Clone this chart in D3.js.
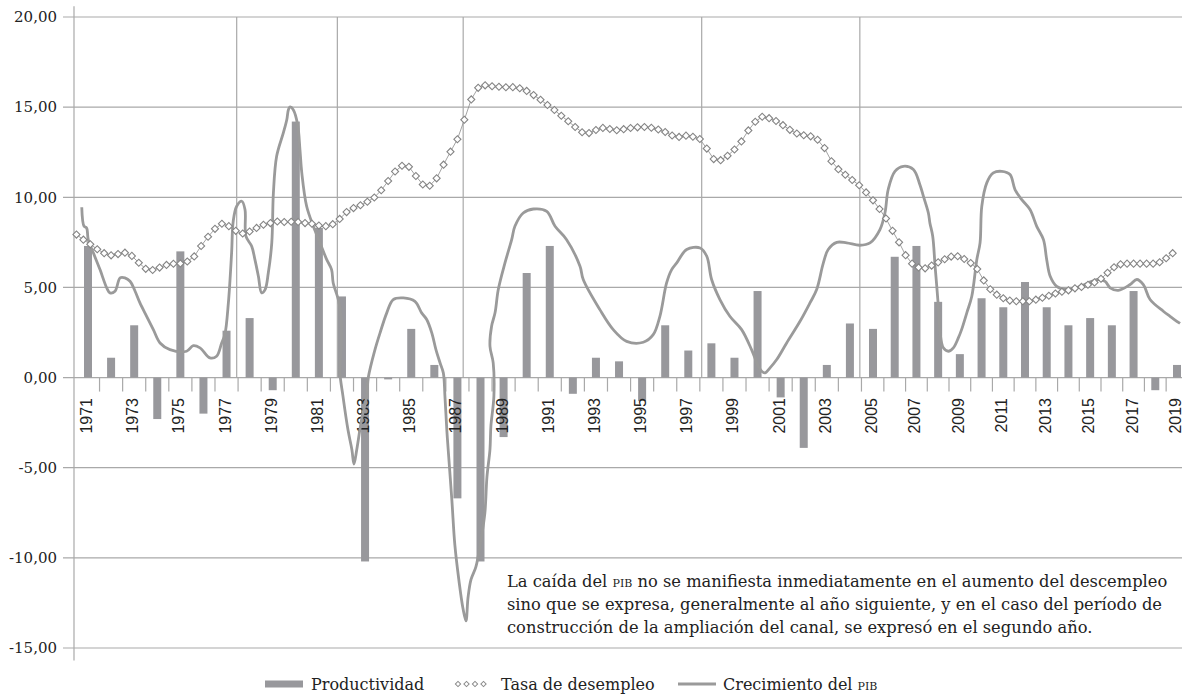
<!DOCTYPE html>
<html>
<head>
<meta charset="utf-8">
<script src="https://cdnjs.cloudflare.com/ajax/libs/d3/7.8.5/d3.min.js"></script>
<style>
  body { margin: 0; background: #fff; }
  svg { display: block; }
</style>
</head>
<body>
<div id="chart"></div>
<script>
// years on the category axis
var years = d3.range(1971, 2020);
var yTicks = [20, 15, 10, 5, 0, -5, -10, -15];

// Productividad (bars), one per year
var productividad = [7.3, 1.1, 2.9, -2.3, 7.0, -2.0, 2.6, 3.3, -0.7, 14.2,
  8.3, 4.5, -10.2, -0.1, 2.7, 0.7, -6.7, -10.2, -3.3, 5.8,
  7.3, -0.9, 1.1, 0.9, -1.3, 2.9, 1.5, 1.9, 1.1, 4.8,
  -1.1, -3.9, 0.7, 3.0, 2.7, 6.7, 7.3, 4.2, 1.3, 4.4,
  3.9, 5.3, 3.9, 2.9, 3.3, 2.9, 4.8, -0.7, 0.7];

// Tasa de desempleo, sampled every 0.3 year from 1970.5
var desStart = 1970.5, desStep = 0.3;
var desempleo = [7.93, 7.65, 7.39, 7.12, 6.9, 6.78, 6.85, 6.93, 6.75, 6.37,
  6.03, 5.97, 6.1, 6.25, 6.31, 6.33, 6.44, 6.72, 7.3, 7.81,
  8.25, 8.53, 8.4, 8.14, 7.99, 8.1, 8.3, 8.48, 8.57, 8.66,
  8.63, 8.64, 8.63, 8.57, 8.53, 8.43, 8.4, 8.51, 8.8, 9.18,
  9.4, 9.56, 9.75, 9.99, 10.39, 10.9, 11.43, 11.75, 11.69, 11.18,
  10.71, 10.64, 11.05, 11.81, 12.53, 13.22, 14.3, 15.43, 16.07, 16.21,
  16.16, 16.13, 16.1, 16.11, 16.05, 15.9, 15.67, 15.41, 15.12, 14.84,
  14.52, 14.22, 13.9, 13.61, 13.56, 13.73, 13.85, 13.79, 13.72, 13.78,
  13.84, 13.88, 13.9, 13.86, 13.76, 13.62, 13.43, 13.35, 13.42, 13.36,
  13.23, 12.7, 12.12, 12.06, 12.3, 12.65, 13.1, 13.71, 14.19, 14.47,
  14.39, 14.23, 14.0, 13.74, 13.54, 13.44, 13.38, 13.19, 12.73, 12.0,
  11.56, 11.25, 10.96, 10.67, 10.27, 9.83, 9.35, 8.82, 8.14, 7.5,
  6.79, 6.32, 6.11, 6.06, 6.21, 6.39, 6.56, 6.71, 6.73, 6.58,
  6.35, 6.02, 5.39, 4.9, 4.6, 4.4, 4.27, 4.23, 4.23, 4.23,
  4.32, 4.43, 4.54, 4.66, 4.76, 4.84, 4.95, 5.03, 5.15, 5.28,
  5.48, 5.81, 6.12, 6.28, 6.32, 6.32, 6.32, 6.32, 6.32, 6.4,
  6.62, 6.9];

// Crecimiento del PIB, traced curve (year position, value)
var pibT = [1970.73, 1970.83, 1970.94, 1971.01, 1971.23, 1971.52, 1971.81, 1971.95, 1972.17, 1972.39,
  1972.6, 1972.82, 1973.04, 1973.25, 1973.54, 1973.83, 1974.12, 1974.55, 1975.27, 1975.56,
  1975.85, 1976.28, 1976.57, 1976.79, 1976.93, 1977.08, 1977.22, 1977.29, 1977.44, 1977.66,
  1977.8, 1977.84, 1978.09, 1978.23, 1978.38, 1978.52, 1978.67, 1978.81, 1978.96, 1979.03,
  1979.17, 1979.46, 1979.61, 1979.68, 1979.75, 1979.89, 1980.08, 1980.18, 1980.26, 1980.47,
  1980.76, 1981.05, 1981.34, 1981.55, 1981.62, 1981.84, 1981.96, 1981.96, 1981.91, 1982.04,
  1982.26, 1982.43, 1982.52, 1982.64, 1982.85, 1983.07, 1983.14, 1983.43, 1983.65, 1983.94,
  1984.22, 1984.66, 1985.16, 1985.45, 1985.67, 1985.89, 1986.07, 1986.25, 1986.39, 1986.46,
  1986.54, 1986.6, 1986.76, 1986.89, 1987.07, 1987.24, 1987.37, 1987.46, 1987.59, 1987.8,
  1988.02, 1988.19, 1988.28, 1988.41, 1988.45, 1988.58, 1988.55, 1988.41, 1988.48, 1988.63,
  1988.77, 1989.06, 1989.35, 1989.49, 1989.85, 1990.29, 1990.87, 1991.23, 1991.73, 1992.31,
  1992.45, 1993.17, 1993.75, 1994.33, 1995.05, 1995.48, 1995.77, 1996.06, 1996.28, 1996.5,
  1996.93, 1997.51, 1997.8, 1998.01, 1998.37, 1998.8, 1999.31, 1999.74, 2000.03, 2000.18,
  2000.32, 2000.54, 2000.83, 2001.26, 2001.84, 2002.27, 2002.56, 2002.85, 2003.06, 2003.43,
  2003.86, 2004.43, 2004.87, 2005.32, 2005.55, 2005.7, 2006.01, 2006.4, 2006.86, 2007.16,
  2007.32, 2007.55, 2007.62, 2007.75, 2007.86, 2008.01, 2008.09, 2008.24, 2008.47, 2008.7,
  2008.93, 2009.08, 2009.32, 2009.55, 2009.78, 2009.93, 2010.01, 2010.24, 2010.54, 2010.93,
  2011.31, 2011.54, 2011.85, 2012.23, 2012.54, 2012.85, 2013.0, 2013.16, 2013.46, 2013.92,
  2014.54, 2015.08, 2015.38, 2015.69, 2015.92, 2016.3, 2016.84, 2017.15, 2017.45, 2017.76,
  2018.37, 2018.68, 2019.14];
var pibV = [9.45, 8.39, 8.3, 7.65, 6.92, 5.99, 4.98, 4.7, 4.79, 5.53,
  5.53, 5.34, 4.79, 4.14, 3.4, 2.66, 1.92, 1.55, 1.46, 1.77,
  1.65, 1.09, 1.18, 1.92, 2.4, 4.14, 6.92, 8.67, 9.5, 9.78,
  9.32, 7.84, 7.28, 6.54, 5.62, 4.7, 4.88, 5.81, 7.47, 10.24,
  12.27, 13.57, 14.3, 14.86, 15.01, 14.86, 14.03, 12.65, 11.35, 9.5,
  8.39, 7.47, 6.54, 5.99, 5.25, 4.33, 3.4, 1.5, 0.3, -1.0,
  -2.9, -4.0, -4.8, -4.0, -2.33, -1.04, 0, 1.55, 2.48, 3.59,
  4.33, 4.42, 4.23, 3.59, 3.22, 2.48, 1.55, 0.81, 0.26, -1.04,
  -2.88, -3.99, -6.8, -9.3, -11.3, -12.8, -13.5, -12.2, -11.2, -10.5,
  -9.0, -7.5, -5.5, -3.99, -2.7, -1.04, 0.81, 1.74, 2.85, 3.59,
  4.88, 6.36, 7.65, 8.39, 9.13, 9.35, 9.22, 8.39, 7.65, 6.17,
  5.44, 3.77, 2.66, 2.01, 1.96, 2.38, 3.4, 5.25, 5.99, 6.36,
  7.1, 7.19, 6.73, 5.44, 4.33, 3.4, 2.66, 1.55, 0.63, 0.35,
  0.26, 0.54, 1.0, 1.92, 3.12, 4.14, 4.88, 6.36, 7.1, 7.5,
  7.47, 7.34, 7.47, 8.21, 9.13, 10.43, 11.44, 11.72, 11.54, 10.7,
  10.06, 9.13, 8.58, 7.84, 6.17, 3.95, 2.48, 1.65, 1.46, 1.65,
  2.2, 2.66, 3.59, 4.51, 6.54, 7.47, 9.5, 10.8, 11.35, 11.44,
  11.26, 10.43, 9.87, 9.32, 8.39, 7.65, 6.54, 5.62, 5.06, 4.88,
  5.06, 5.34, 5.44, 5.34, 4.98, 4.84, 5.16, 5.44, 5.16, 4.33,
  3.68, 3.4, 3.0];

// vertical period separators (year positions)
var separators = [1977.44, 1981.8, 1987.25, 1997.58, 2004.43];

var annotation = [
  ["La caída del ", "pib", " no se manifiesta inmediatamente en el aumento del descempleo"],
  ["sino que se expresa, generalmente al año siguiente, y en el caso del período de"],
  ["construcción de la ampliación del canal, se expresó en el segundo año."]
];

var W = 1182, H = 697;
var grey = "#a9a9a9", barColor = "#98989c", lineColor = "#9a9a9a";
var serif = "'DejaVu Serif', serif";

var svg = d3.select("#chart").append("svg").attr("width", W).attr("height", H);

var x = d3.scaleLinear().domain([1971, 2005, 2019]).range([88, 873, 1177]);
var y = d3.scaleLinear().domain([20, -15]).range([17, 648]);
var axisX = 74;

// horizontal gridlines
svg.append("g").selectAll("line").data(yTicks).join("line")
  .attr("x1", axisX - 11).attr("x2", W)
  .attr("y1", d => y(d)).attr("y2", d => y(d))
  .attr("stroke", grey).attr("stroke-width", 1.2);

// vertical separators
svg.append("g").selectAll("line").data(separators).join("line")
  .attr("x1", d => x(d)).attr("x2", d => x(d))
  .attr("y1", y(20)).attr("y2", y(0))
  .attr("stroke", grey).attr("stroke-width", 1.2);

// y axis line
svg.append("line").attr("x1", axisX).attr("x2", axisX)
  .attr("y1", y(20.6)).attr("y2", y(-15.7))
  .attr("stroke", grey).attr("stroke-width", 1.2);

// y labels
svg.append("g").selectAll("text").data(yTicks).join("text")
  .attr("x", 57).attr("y", d => y(d)).attr("dy", "0.35em")
  .attr("text-anchor", "end")
  .style("font-family", serif).style("font-size", "15px").style("fill", "#222")
  .text(d => d3.format(".2f")(d).replace(".", ",").replace("\u2212", "-"));

// category ticks between years
svg.append("g").selectAll("line").data(years.slice(0, -1)).join("line")
  .attr("x1", d => x(d + 0.5)).attr("x2", d => x(d + 0.5))
  .attr("y1", y(0)).attr("y2", y(0) + 14)
  .attr("stroke", grey).attr("stroke-width", 1.2);

// bars
svg.append("g").selectAll("rect").data(years).join("rect")
  .attr("x", d => x(d) - 4).attr("width", 8)
  .attr("y", (d, i) => y(Math.max(0, productividad[i])))
  .attr("height", (d, i) => Math.abs(y(productividad[i]) - y(0)))
  .attr("fill", barColor);

// year labels (odd years)
svg.append("g").selectAll("text").data(years.filter(d => d % 2 === 1)).join("text")
  .attr("transform", d => "translate(" + (x(d) + 4) + "," + 398 + ") rotate(-90)")
  .attr("text-anchor", "end")
  .style("font-family", "'Liberation Sans', Arial, sans-serif").style("font-size", "16px").style("fill", "#222")
  .text(d => d);

// PIB line
var pibPts = pibT.map((t, i) => [t, pibV[i]]);
svg.append("path").datum(pibPts)
  .attr("d", d3.line().x(d => x(d[0])).y(d => y(d[1])).curve(d3.curveCatmullRom.alpha(0.5)))
  .attr("fill", "none").attr("stroke", lineColor).attr("stroke-width", 2.8)
  .attr("stroke-linejoin", "round");

// desempleo line with diamond markers
var desPts = desempleo.map((v, i) => [desStart + i * desStep, v]);
svg.append("path").datum(desPts)
  .attr("d", d3.line().x(d => x(d[0])).y(d => y(d[1])))
  .attr("fill", "none").attr("stroke", "#8c8c8c").attr("stroke-width", 0.8);
var diamond = d3.symbol(d3.symbolSquare, 25);
svg.append("g").selectAll("path").data(desPts).join("path")
  .attr("d", diamond)
  .attr("transform", d => "translate(" + x(d[0]) + "," + y(d[1]) + ") rotate(45)")
  .attr("fill", "#fff").attr("stroke", "#858585").attr("stroke-width", 1.1);

// annotation
var ann = svg.append("text")
  .style("font-family", serif).style("font-size", "16.3px").style("fill", "#222");
annotation.forEach(function (parts, i) {
  parts.forEach(function (p, j) {
    var ts = ann.append("tspan").text(p);
    if (j === 0) ts.attr("x", 507).attr("y", 587 + i * 23);
    if (p === "pib") ts.style("font-variant", "small-caps");
  });
});

// legend
var ly = 684;
var legend = svg.append("g").style("font-family", serif).style("font-size", "16px").style("fill", "#222");
legend.append("rect").attr("x", 265).attr("y", ly - 3.5).attr("width", 38).attr("height", 7).attr("fill", barColor);
legend.append("text").attr("x", 311).attr("y", ly).attr("dy", "0.35em").text("Productividad");
var lgDiamonds = [0, 1, 2, 3];
legend.selectAll("path.lg").data(lgDiamonds).join("path").attr("class", "lg")
  .attr("d", d3.symbol(d3.symbolSquare, 14))
  .attr("transform", d => "translate(" + (458 + d * 8.5) + "," + ly + ") rotate(45)")
  .attr("fill", "#fff").attr("stroke", "#8a8a8a").attr("stroke-width", 1);
legend.append("text").attr("x", 501).attr("y", ly).attr("dy", "0.35em").text("Tasa de desempleo");
legend.append("line").attr("x1", 678).attr("x2", 716).attr("y1", ly).attr("y2", ly)
  .attr("stroke", lineColor).attr("stroke-width", 2.8);
var lt = legend.append("text").attr("x", 723).attr("y", ly).attr("dy", "0.35em");
lt.append("tspan").text("Crecimiento del ");
lt.append("tspan").style("font-variant", "small-caps").text("pib");
</script>
</body>
</html>
